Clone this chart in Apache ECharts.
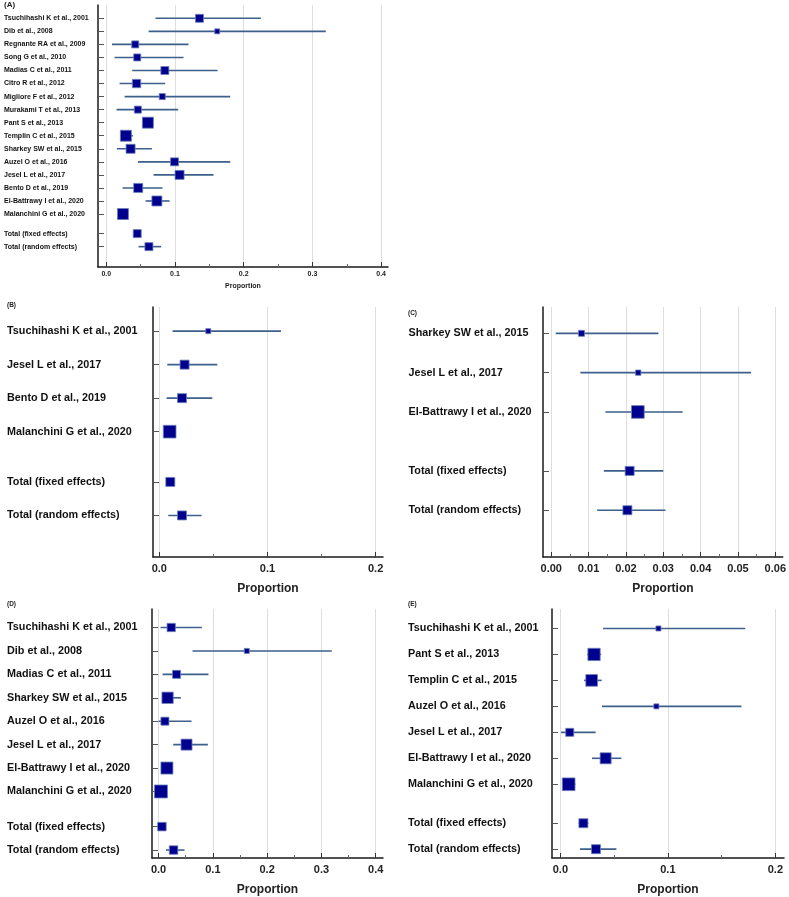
<!DOCTYPE html>
<html>
<head>
<meta charset="utf-8">
<script src="https://cdn.jsdelivr.net/npm/echarts@6/dist/echarts.min.js"></script>
<style>html,body{margin:0;padding:0;background:#fff}#c{width:789px;height:897px}</style>
</head>
<body>
<div id="c"></div>
<script>
// ---------- DATA ----------
// Panel A
const namesA = ['Tsuchihashi K et al., 2001','Dib et al., 2008','Regnante RA et al., 2009','Song G et al., 2010','Madias C et al., 2011','Citro R et al., 2012','Migliore F et al., 2012','Murakami T et al., 2013','Pant S et al., 2013','Templin C et al., 2015','Sharkey SW et al., 2015','Auzel O et al., 2016','Jesel L et al., 2017','Bento D et al., 2019','El-Battrawy I et al., 2020','Malanchini G et al., 2020'];
const estA  = [0.1357,0.1615,0.0422,0.0451,0.0853,0.0441,0.0815,0.0460,0.0606,0.0286,0.0354,0.0994,0.1067,0.0465,0.0737,0.0243];
const lowA  = [0.0717,0.0616,0.0083,0.0121,0.0378,0.0194,0.0267,0.0150,0.0550,0.0204,0.0155,0.0461,0.0688,0.0237,0.0572,0.0190];
const highA = [0.2250,0.3195,0.1197,0.1125,0.1620,0.0858,0.1804,0.1047,0.0660,0.0388,0.0664,0.1804,0.1561,0.0819,0.0921,0.0300];
const weightA = [5.4,2.1,4.2,4.2,5.4,5.9,3.1,4.2,10.3,10.3,6.9,5.4,6.9,6.9,8.5,10.3];
const totEstA = [0.0451,0.0621], totLowA = [0.0410,0.0470], totHighA = [0.0500,0.0800];

// Panel B
const namesB = ['Tsuchihashi K et al., 2001','Jesel L et al., 2017','Bento D et al., 2019','Malanchini G et al., 2020'];
const estB  = [0.0453,0.0234,0.0210,0.0096];
const lowB  = [0.0123,0.0074,0.0068,0.0060];
const highB = [0.1125,0.0536,0.0490,0.0140];
const weightB = [7.2,23.3,23.3,46.2];
const totEstB = [0.0102,0.0210], totLowB = [0.0070,0.0083], totHighB = [0.0140,0.0391];

// Panel C
const namesC = ['Sharkey SW et al., 2015','Jesel L et al., 2017','El-Battrawy I et al., 2020'];
const estC  = [0.0081,0.0233,0.0232];
const lowC  = [0.0012,0.0078,0.0145];
const highC = [0.0287,0.0535,0.0352];
const weightC = [16.0,12.4,71.6];
const totEstC = [0.0210,0.0204], totLowC = [0.0141,0.0123], totHighC = [0.0300,0.0306];

// Panel D
const namesD = ['Tsuchihashi K et al., 2001','Dib et al., 2008','Madias C et al., 2011','Sharkey SW et al., 2015','Auzel O et al., 2016','Jesel L et al., 2017','El-Battrawy I et al., 2020','Malanchini G et al., 2020'];
const estD  = [0.0233,0.1625,0.0331,0.0166,0.0117,0.0515,0.0154,0.0044];
const lowD  = [0.0037,0.0626,0.0074,0.0062,0.0000,0.0270,0.0080,0.0005];
const highD = [0.0797,0.3190,0.0919,0.0411,0.0607,0.0908,0.0260,0.0120];
const weightD = [8.8,3.2,8.2,16.3,8.2,15.4,18.4,21.5];
const totEstD = [0.0062,0.0276], totLowD = [0.0020,0.0136], totHighD = [0.0110,0.0478];

// Panel E
const namesE = ['Tsuchihashi K et al., 2001','Pant S et al., 2013','Templin C et al., 2015','Auzel O et al., 2016','Jesel L et al., 2017','El-Battrawy I et al., 2020','Malanchini G et al., 2020'];
const estE  = [0.0912,0.0313,0.0291,0.0893,0.0087,0.0421,0.0077];
const lowE  = [0.0397,0.0250,0.0220,0.0387,0.0006,0.0294,0.0030];
const highE = [0.1720,0.0380,0.0384,0.1684,0.0328,0.0567,0.0140];
const weightE = [3.7,22.1,20.0,3.7,9.4,17.7,23.5];
const totEstE = [0.0214,0.0331], totLowE = [0.0170,0.0182], totHighE = [0.0260,0.0521];

const totalNames = ['Total (fixed effects)','Total (random effects)'];
const ticksA = [0,0.1,0.2,0.3,0.4], minorA = [0.05,0.15,0.25,0.35];
const ticksB = [0,0.1,0.2], minorB = [0.05,0.15];
const ticksC = [0,0.01,0.02,0.03,0.04,0.05,0.06], minorC = [0.005,0.015,0.025,0.035,0.045,0.055];
const ticksD = ticksA, minorD = minorA;
const ticksE = ticksB, minorE = minorB;

// ---------- LAYOUT / STYLE ----------
const panels = [
  {names:namesA, est:estA, low:lowA, high:highA, w:weightA, te:totEstA, tl:totLowA, th:totHighA, ticks:ticksA, minor:minorA, dec:1,
   grid:{left:98, width:290, top:5, height:262}, xmin:-0.012, xmax:0.41, ymin:-1.02, ymax:19.06,
   k:3.43, totSize:8, font:7, tickFont:7, nameFont:7, labelMargin:94, nameGap:16, tickLabelMargin:4, title:'(A)', tx:4, ty:1, tfs:8},
  {names:namesB, est:estB, low:lowB, high:highB, w:weightB, te:totEstB, tl:totLowB, th:totHighB, ticks:ticksB, minor:minorB, dec:1,
   grid:{left:153, width:230, top:307, height:250}, xmin:-0.0058, xmax:0.2068, ymin:-0.72, ymax:6.74,
   k:1.865, totSize:9, font:10.8, tickFont:11, nameFont:12, labelMargin:146, nameGap:26, tickLabelMargin:6, title:'(B)', tx:7, ty:302, tfs:6.5},
  {names:namesC, est:estC, low:lowC, high:highC, w:weightC, te:totEstC, tl:totLowC, th:totHighC, ticks:ticksC, minor:minorC, dec:2,
   grid:{left:543, width:242, top:307, height:250}, xmin:-0.0022, xmax:0.062, ymin:-0.67, ymax:5.69,
   k:1.5, totSize:9, font:10.8, tickFont:11, nameFont:12, labelMargin:134.5, nameGap:26, tickLabelMargin:6, title:'(C)', tx:408, ty:310, tfs:6.5},
  {names:namesD, est:estD, low:lowD, high:highD, w:weightD, te:totEstD, tl:totLowD, th:totHighD, ticks:ticksD, minor:minorD, dec:1,
   grid:{left:152, width:231, top:609, height:249}, xmin:-0.0121, xmax:0.4134, ymin:-0.79, ymax:9.84,
   k:2.8, totSize:8.5, font:10.8, tickFont:11, nameFont:12, labelMargin:145, nameGap:26, tickLabelMargin:6, title:'(D)', tx:7, ty:601, tfs:6.5},
  {names:namesE, est:estE, low:lowE, high:highE, w:weightE, te:totEstE, tl:totLowE, th:totHighE, ticks:ticksE, minor:minorE, dec:1,
   grid:{left:552, width:232, top:609, height:249}, xmin:-0.0078, xmax:0.208, ymin:-0.75, ymax:8.84,
   k:2.615, totSize:9, font:10.8, tickFont:11, nameFont:12, labelMargin:144, nameGap:26, tickLabelMargin:6, title:'(E)', tx:408, ty:601, tfs:6.5}
];

const FONT = '"Liberation Sans", Arial, sans-serif';
const SQ = '#00008f', SQB = '#6b7fb8', CI = '#3d5f8c';

const option = {animation:false, backgroundColor:'#fff', grid:[], xAxis:[], yAxis:[], series:[], graphic:[]};

panels.forEach((p, pi) => {
  const n = p.names.length;
  const pos = p.names.map((_, i) => i).concat([n + 0.5, n + 1.5]);
  const labels = p.names.concat(totalNames);
  const est = p.est.concat(p.te), low = p.low.concat(p.tl), high = p.high.concat(p.th);
  const sizes = p.w.map(w => p.k * Math.sqrt(w)).concat([p.totSize, p.totSize]);

  option.grid.push(Object.assign({containLabel:false}, p.grid));
  const xi = option.xAxis.length;
  option.xAxis.push({
    type:'value', gridIndex:pi, position:'bottom', min:p.xmin, max:p.xmax,
    name:'Proportion', nameLocation:'middle', nameGap:p.nameGap,
    nameTextStyle:{fontFamily:FONT, fontWeight:'bold', fontSize:p.nameFont, color:'#222'},
    axisLine:{show:true, onZero:false, lineStyle:{color:'#1a1a1a', width:1.5}},
    axisTick:{show:true, inside:true, length:5, customValues:p.ticks, lineStyle:{color:'#333', width:1}},
    axisLabel:{show:true, customValues:p.ticks, margin:p.tickLabelMargin, fontFamily:FONT, fontWeight:'bold', fontSize:p.tickFont, color:'#222',
      formatter: v => Number(v).toFixed(p.dec)},
    splitLine:{show:true, lineStyle:{color:'#dedede', width:1}}
  });
  option.xAxis.push({
    type:'value', gridIndex:pi, position:'bottom', offset:0, min:p.xmin, max:p.xmax,
    axisLine:{show:false, onZero:false}, axisLabel:{show:false}, splitLine:{show:false},
    axisTick:{show:true, inside:true, length:3, customValues:p.minor, lineStyle:{color:'#666', width:1}}
  });
  const yi = option.yAxis.length;
  option.yAxis.push({
    type:'value', gridIndex:pi, inverse:true, min:p.ymin, max:p.ymax,
    axisLine:{show:true, onZero:false, lineStyle:{color:'#1a1a1a', width:1.5}},
    axisTick:{show:true, inside:true, length:6, customValues:pos, lineStyle:{color:'#555', width:1}},
    axisLabel:{show:true, customValues:pos, align:'left', margin:p.labelMargin, fontFamily:FONT, fontWeight:'bold', fontSize:p.font, color:'#111',
      formatter: v => { const i = pos.findIndex(q => Math.abs(q - v) < 1e-6); return i >= 0 ? labels[i] : ''; }},
    splitLine:{show:false}
  });

  option.series.push({
    type:'custom', xAxisIndex:xi, yAxisIndex:yi, z:2,
    data: pos.map((y, i) => [low[i], high[i], y]),
    encode:{x:[0,1], y:2},
    renderItem:(params, api) => {
      const a = api.coord([api.value(0), api.value(2)]);
      const b = api.coord([api.value(1), api.value(2)]);
      return {type:'line', shape:{x1:a[0], y1:a[1], x2:b[0], y2:b[1]}, style:{stroke:CI, lineWidth:1.6}};
    }
  });
  option.series.push({
    type:'scatter', xAxisIndex:xi, yAxisIndex:yi, z:3, symbol:'rect',
    data: pos.map((y, i) => [est[i], y, sizes[i]]),
    symbolSize: v => v[2],
    itemStyle:{color:SQ, borderColor:SQB, borderWidth:0.8, opacity:1}
  });

  option.graphic.push({type:'text', left:p.tx, top:p.ty, style:{text:p.title, fontFamily:FONT, fontWeight:'bold', fontSize:p.tfs, fill:'#222'}});
});

const chart = echarts.init(document.getElementById('c'), null, {renderer:'canvas'});
chart.setOption(option);
</script>
</body>
</html>
